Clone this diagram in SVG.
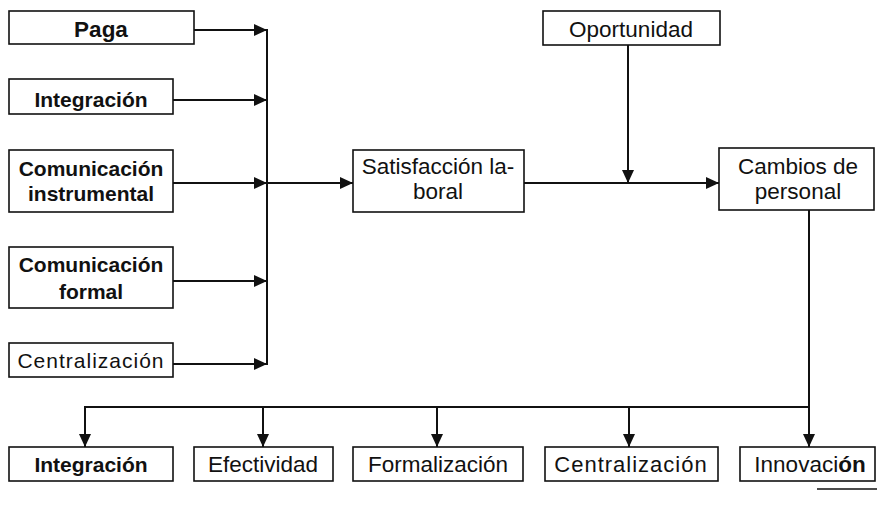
<svg xmlns="http://www.w3.org/2000/svg" width="877" height="513" viewBox="0 0 877 513">
<defs>
<marker id="ah" markerUnits="userSpaceOnUse" markerWidth="13" markerHeight="12" refX="13" refY="6" orient="auto">
<path d="M0,0 L13,6 L0,12 z" fill="#111"/>
</marker>
<style>
.box{fill:#fff;stroke:#111;stroke-width:1.6}
.t{font-family:"Liberation Sans",Arial,sans-serif;font-size:22.5px;fill:#111;text-anchor:middle}
.b{font-weight:bold;font-size:21px}
.ls{letter-spacing:1px;font-size:21px}
.c{fill:none;stroke:#111;stroke-width:2}
</style>
</defs>
<rect width="877" height="513" fill="#fff"/>
<g id="connectors">
<line class="c" x1="194" y1="30" x2="267" y2="30" marker-end="url(#ah)"/>
<line class="c" x1="173" y1="100" x2="267" y2="100" marker-end="url(#ah)"/>
<line class="c" x1="173" y1="183" x2="267" y2="183" marker-end="url(#ah)"/>
<line class="c" x1="173" y1="281" x2="267" y2="281" marker-end="url(#ah)"/>
<line class="c" x1="173" y1="364" x2="267" y2="364" marker-end="url(#ah)" stroke-width="1.6"/>
<line class="c" x1="267" y1="29" x2="267" y2="365"/>
<line class="c" x1="267" y1="183" x2="353" y2="183" marker-end="url(#ah)"/>
<line class="c" x1="524" y1="183" x2="719" y2="183" marker-end="url(#ah)"/>
<line class="c" x1="628" y1="45" x2="628" y2="183" marker-end="url(#ah)"/>
<line class="c" x1="809" y1="210" x2="809" y2="447" marker-end="url(#ah)" stroke-width="2.4"/>
<line class="c" x1="85" y1="407" x2="809" y2="407"/>
<line class="c" x1="85" y1="406" x2="85" y2="447" marker-end="url(#ah)"/>
<line class="c" x1="263" y1="407" x2="263" y2="447" marker-end="url(#ah)"/>
<line class="c" x1="437" y1="407" x2="437" y2="447" marker-end="url(#ah)"/>
<line class="c" x1="629" y1="407" x2="629" y2="447" marker-end="url(#ah)"/>
<line x1="817" y1="489" x2="877" y2="489" stroke="#111" stroke-width="1.5"/>
</g>
<g id="paga"><rect class="box" x="9" y="11" width="185" height="33"/><text class="t b" x="101" y="37" style="font-size:22.5px">Paga</text></g>
<g id="integracion-in"><rect class="box" x="9" y="79" width="164" height="35"/><text class="t b" x="91" y="107">Integración</text></g>
<g id="com-instr"><rect class="box" x="9" y="150" width="164" height="62"/><text class="t b" x="91" y="176">Comunicación</text><text class="t b" x="91" y="201">instrumental</text></g>
<g id="com-formal"><rect class="box" x="9" y="247" width="164" height="61"/><text class="t b" x="91" y="272">Comunicación</text><text class="t b" x="91" y="299">formal</text></g>
<g id="centralizacion-in"><rect class="box" x="9" y="343" width="164" height="34"/><text class="t ls" x="91" y="368">Centralización</text></g>
<g id="satisfaccion"><rect class="box" x="353" y="150" width="171" height="62"/><text class="t" x="438" y="174">Satisfacción la-</text><text class="t" x="438" y="199">boral</text></g>
<g id="oportunidad"><rect class="box" x="543" y="11" width="177" height="34"/><text class="t" x="631" y="37">Oportunidad</text></g>
<g id="cambios"><rect class="box" x="719" y="148" width="155" height="62"/><text class="t" x="798" y="174">Cambios de</text><text class="t" x="798" y="199">personal</text></g>
<g id="integracion-out"><rect class="box" x="9" y="447" width="164" height="34"/><text class="t b" x="91" y="472">Integración</text></g>
<g id="efectividad"><rect class="box" x="194" y="447" width="139" height="34"/><text class="t" x="263" y="472">Efectividad</text></g>
<g id="formalizacion"><rect class="box" x="353" y="447" width="170" height="34"/><text class="t" x="438" y="472">Formalización</text></g>
<g id="centralizacion-out"><rect class="box" x="545" y="447" width="173" height="34"/><text class="t ls" x="631" y="472" style="font-size:22px;letter-spacing:1px">Centralización</text></g>
<g id="innovacion"><rect class="box" x="740" y="447" width="135" height="34"/><text class="t" x="810" y="472">Innovaci<tspan style="font-weight:bold">ón</tspan></text></g>
</svg>
